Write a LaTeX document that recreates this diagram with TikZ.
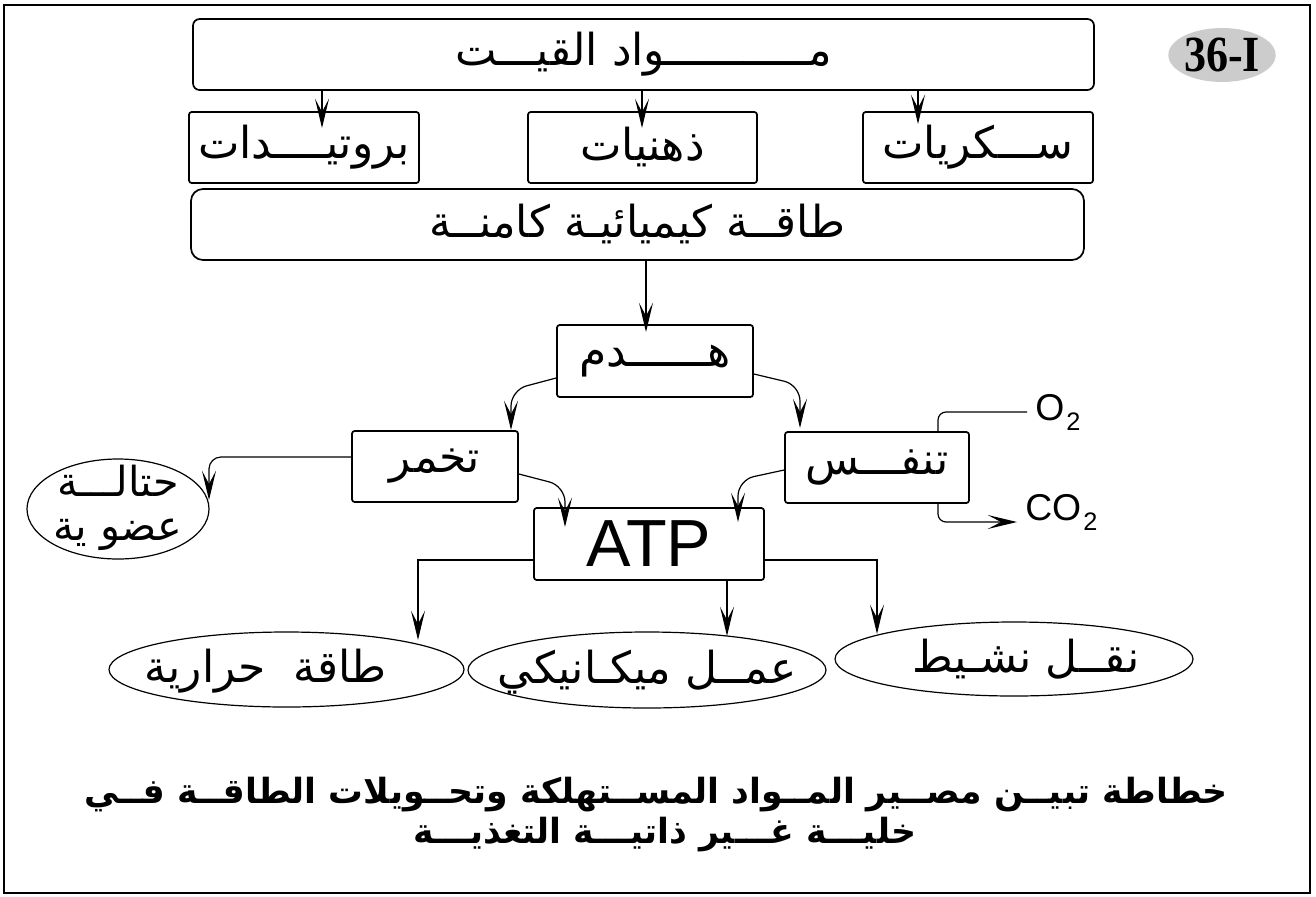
\documentclass[tikz,border=0pt]{standalone}
\usepackage{fontspec}
\usepackage{graphicx}
\usetikzlibrary{arrows.meta,shapes.geometric,calc}
\TeXXeTstate=1
\newfontfamily\arfont[Script=Arabic]{DejaVu Sans}
\newfontfamily\latfont{Liberation Sans}
\newfontfamily\serfont{Liberation Serif}
\newcommand\AR[1]{{\arfont\beginR #1\endR}}
% zero-size box so that an ellipse keeps its given size
\newcommand\ZB[1]{\makebox[0pt]{\raisebox{-0.3em}[0pt][0pt]{#1}}}
\begin{document}
\begin{tikzpicture}[x=0.75pt,y=-0.75pt,
  box/.style={draw, line width=1.3pt, rounded corners=2pt, inner sep=0pt, minimum height=53.25pt},
  ell/.style={draw, ellipse, line width=0.9pt, inner sep=0pt},
  con/.style={line width=0.9pt},
  arr/.style={con, -{Stealth[length=22pt,width=10.5pt,inset=10pt]}},
  lbl/.style={font=\arfont\fontsize{33}{38}\selectfont},
  ttl/.style={font=\arfont\bfseries\fontsize{26}{30}\selectfont, inner sep=0pt},
  gas/.style={anchor=base west, inner sep=0pt, font=\latfont\fontsize{28}{32}\selectfont},
]
\useasboundingbox (0,0) rectangle (1316,896);
\draw[line width=2.2pt] (4,5) rectangle (1310,893);

% badge
\node[ellipse, fill=black!20, minimum width=71.25pt, minimum height=40.5pt, inner sep=0pt] (badge) at (1222,55)
  {\serfont\bfseries\fontsize{38}{38}\selectfont\scalebox{0.87}[1]{36-I}};

% boxes
\node[box, rounded corners=5pt, minimum width=675.75pt, lbl] (mawad) at (643.5,54.5) {\AR{مـــــــــــواد القيـــت}};
\node[box, minimum width=172.5pt, lbl] (prot) at (304,147.5) {\AR{بروتيــــدات}};
\node[box, minimum width=171.75pt, lbl] (dohn) at (642.5,147.5) {\AR{ذهنيات}};
\node[box, minimum width=172.5pt, lbl] (suk) at (978,147.5) {\AR{ســـكريات}};
\node[box, rounded corners=9pt, minimum width=669.75pt, lbl] (energy) at (637.5,224.5) {\AR{طاقــة كيميائيـة كامنــة}};
\node[box, minimum width=147pt, minimum height=54pt, lbl] (hadm) at (655,361) {\AR{هــــــدم}};
\node[box, minimum width=124.5pt, lbl] (takh) at (435,466.5) {\AR{تخمر}};
\node[box, minimum width=138pt, lbl] (tanaf) at (877,467.5) {\AR{تنفـــس}};
\node[box, minimum width=172.5pt, minimum height=54pt, font=\latfont\fontsize{50}{50}\selectfont] (atp) at (649,544) {ATP};

% ellipses
\node[ell, minimum width=136.5pt, minimum height=75pt, font=\arfont\fontsize{31}{33}\selectfont] (hatala) at (118,509)
  {\makebox[0pt]{\raisebox{-0.22em}[0pt][0pt]{\begin{tabular}{@{}c@{}}\AR{حتالـــة}\\\AR{عضو ية}\end{tabular}}}};
\node[ell, minimum width=266.25pt, minimum height=56.25pt, lbl] (harara) at (286.5,669.5) {\ZB{\AR{طاقة\ \ حرارية}\hspace*{31pt}}};
\node[ell, minimum width=268.5pt, minimum height=57pt, lbl] (amal) at (647,670) {\ZB{\AR{عمــل ميكـانيكي}}};
\node[ell, minimum width=268.5pt, minimum height=55.5pt, lbl] (naql) at (1014,659) {\ZB{\hspace*{18pt}\AR{نقــل نشـيط}}};

% gases
\node[gas] (o2) at (1035,420) {O\hspace{1.5pt}\raisebox{-7.5pt}{\fontsize{19}{21}\selectfont 2}};
\node[gas] (co2) at (1025,520) {CO\hspace{1.5pt}\raisebox{-7.5pt}{\fontsize{19}{21}\selectfont 2}};

% title
\node[ttl] (t1) at (656,795) {\beginR خطاطة تبيــن مصــير المــواد المســتهلكة وتحــويلات الطاقــة فــي\endR};
\node[ttl] (t2) at (665,835) {\beginR خليـــة غـــير ذاتيـــة التغذيـــة\endR};

% connector ends
\coordinate (a1) at (322,128);
\coordinate (a2) at (642,128);
\coordinate (a3) at (918,124);
\coordinate (a4) at (646,332);
\coordinate (s378) at (0,378);
\coordinate (s374) at (0,374);
\coordinate (s474) at (0,474);
\coordinate (s470) at (0,470);
\coordinate (s457) at (0,457);
\coordinate (s560) at (0,560);
\coordinate (x938) at (938,0);
\coordinate (o2end) at (1027,412);
\coordinate (co2tip) at (1017,522);
\coordinate (b1) at (511,430);
\coordinate (b2) at (800,428);
\coordinate (b3) at (565,527);
\coordinate (b4) at (738,522);
\coordinate (b5) at (209,500);
\coordinate (d1) at (418,640);
\coordinate (d2) at (727,636);
\coordinate (d3) at (877,634);

\draw[arr] (mawad.south -| a1) -- (a1);
\draw[arr] (mawad.south -| a2) -- (a2);
\draw[arr] (mawad.south -| a3) -- (a3);
\draw[arr] (energy.south -| a4) -- (a4);
\draw[arr, rounded corners=12pt] (hadm.west |- s378) -- (511,390) -- (b1);
\draw[arr, rounded corners=12pt] (hadm.east |- s374) -- (800,385) -- (b2);
\draw[arr, rounded corners=12pt] (takh.east |- s474) -- (565,486) -- (b3);
\draw[arr, rounded corners=12pt] (tanaf.west |- s470) -- (738,480) -- (b4);
\draw[arr, rounded corners=9pt] (takh.west |- s457) -| (b5);
\draw[con, rounded corners=6pt] (tanaf.north -| x938) |- (o2end);
\draw[arr, rounded corners=6pt] (tanaf.south -| x938) |- (co2tip);
\draw[arr] (atp.west |- s560) -| (d1);
\draw[arr] (atp.south -| d2) -- (d2);
\draw[arr] (atp.east |- s560) -| (d3);
\end{tikzpicture}
\end{document}
